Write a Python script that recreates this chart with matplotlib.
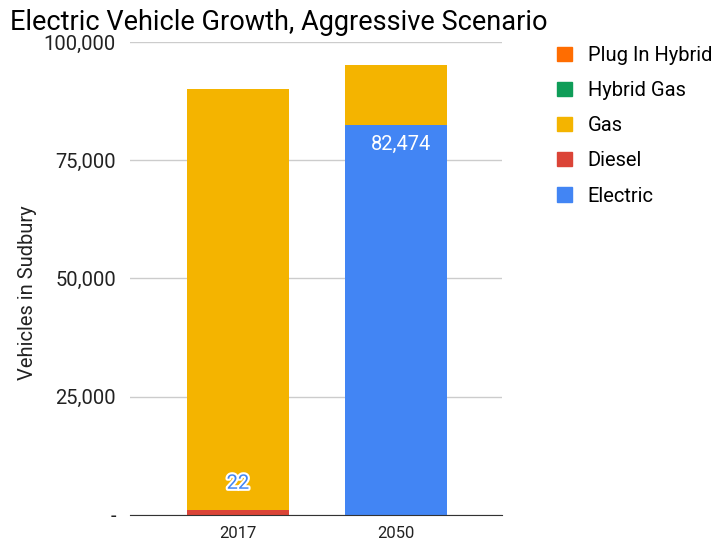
import matplotlib.pyplot as plt
import matplotlib.patheffects as pe
from matplotlib.patches import Patch

plt.rcParams['font.family'] = ['Roboto', 'DejaVu Sans']

years = ['2017', '2050']
series = ['Electric', 'Diesel', 'Gas', 'Hybrid Gas', 'Plug In Hybrid']
electric = [22, 82474]
diesel = [1060, 0]
gas = [88980, 12660]
hybrid_gas = [0, 0]
plug_in = [0, 0]
colors = ['#4285F4', '#DB4437', '#F4B400', '#0F9D58', '#FF6D01']
yticks = [0, 25000, 50000, 75000, 100000]
ytick_labels = ['-', '25,000', '50,000', '75,000', '100,000']

fig = plt.figure(figsize=(7.21, 5.43), dpi=100)
ax = fig.add_axes([0.180, 0.0516, 0.516, 0.8711])

x = list(range(len(years)))
bottom = [0, 0]
values = [electric, diesel, gas, hybrid_gas, plug_in]
for name, vals, c in zip(series, values, colors):
    ax.bar(x, vals, 0.646, bottom=bottom, color=c, label=name, zorder=2)
    bottom = [b + v for b, v in zip(bottom, vals)]

ax.set_ylim(0, 100000)
ax.set_xlim(-0.684, 1.671)
ax.set_yticks(yticks)
ax.set_yticklabels(ytick_labels, fontsize=14.5, color='#222222')
ax.set_xticks(x)
ax.set_xticklabels(years, fontsize=12, color='#222222')
ax.tick_params(axis='y', length=0, pad=10)
ax.tick_params(axis='x', length=0, pad=8)
ax.grid(axis='y', color='#cccccc', linewidth=1, zorder=0)
for s in ['top', 'right', 'left']:
    ax.spines[s].set_visible(False)
ax.spines['bottom'].set_color('#333333')
ax.spines['bottom'].set_zorder(3)
ax.set_ylabel('Vehicles in Sudbury', fontsize=14.5, color='#222222')
ax.yaxis.set_label_coords(-0.25, 0.47)

# data labels
ax.text(0, 6700, f'{electric[0]:,}', ha='center', va='center', fontsize=14.5,
        color='#4285F4', path_effects=[pe.withStroke(linewidth=3, foreground='white')], zorder=4)
ax.text(1.03, electric[1] - 4200, f'{electric[1]:,}', ha='center', va='center',
        fontsize=14.5, color='white', zorder=4)

fig.text(0.014, 0.958, 'Electric Vehicle Growth, Aggressive Scenario', fontsize=19.5,
         color='#000000', va='center', ha='left')

handles = [Patch(color=c, label=n) for n, c in zip(series, colors)][::-1]
fig.legend(handles=handles, loc='upper left', bbox_to_anchor=(0.762, 0.93),
           frameon=False, fontsize=14.5, handlelength=0.7, handleheight=0.7,
           handletextpad=0.8, labelspacing=0.8, borderaxespad=0)

fig.savefig('out.png', dpi=100)
